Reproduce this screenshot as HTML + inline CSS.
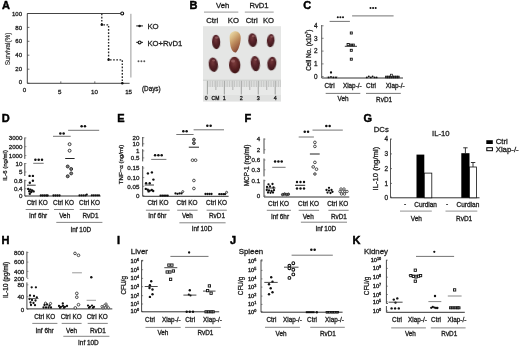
<!DOCTYPE html>
<html><head><meta charset="utf-8"><style>
html,body{margin:0;padding:0;background:#fff;width:520px;height:346px;overflow:hidden}
svg{display:block;will-change:transform}
text{font-family:"Liberation Sans", sans-serif;stroke:#1e1e1e;stroke-width:0.3px}
</style></head><body>
<svg width="520" height="346" viewBox="0 0 520 346" font-family='"Liberation Sans", sans-serif'>
<rect width="520" height="346" fill="#fff"/>
<text x="6.00" y="8.84" font-size="11.0" font-weight="bold" text-anchor="middle" fill="#000" style="stroke:#000;stroke-width:0.45px">A</text>
<line x1="27.30" y1="13.50" x2="27.30" y2="83.30" stroke="#444" stroke-width="1.0"/>
<line x1="27.30" y1="83.30" x2="129.60" y2="83.30" stroke="#444" stroke-width="1.0"/>
<line x1="27.30" y1="13.50" x2="29.40" y2="13.50" stroke="#444" stroke-width="0.8"/>
<text x="22.00" y="15.66" font-size="6.0" text-anchor="end" fill="#1e1e1e">100</text>
<line x1="27.30" y1="27.40" x2="29.40" y2="27.40" stroke="#444" stroke-width="0.8"/>
<text x="22.00" y="29.56" font-size="6.0" text-anchor="end" fill="#1e1e1e">80</text>
<line x1="27.30" y1="41.30" x2="29.40" y2="41.30" stroke="#444" stroke-width="0.8"/>
<text x="22.00" y="43.46" font-size="6.0" text-anchor="end" fill="#1e1e1e">60</text>
<line x1="27.30" y1="55.20" x2="29.40" y2="55.20" stroke="#444" stroke-width="0.8"/>
<text x="22.00" y="57.36" font-size="6.0" text-anchor="end" fill="#1e1e1e">40</text>
<line x1="27.30" y1="69.20" x2="29.40" y2="69.20" stroke="#444" stroke-width="0.8"/>
<text x="22.00" y="71.36" font-size="6.0" text-anchor="end" fill="#1e1e1e">20</text>
<line x1="27.30" y1="83.30" x2="29.40" y2="83.30" stroke="#444" stroke-width="0.8"/>
<text x="22.00" y="83.76" font-size="6.0" text-anchor="end" fill="#1e1e1e">0</text>
<line x1="60.80" y1="81.40" x2="60.80" y2="83.30" stroke="#444" stroke-width="0.8"/>
<line x1="94.80" y1="81.40" x2="94.80" y2="83.30" stroke="#444" stroke-width="0.8"/>
<text x="24.40" y="91.63" font-size="6.2" text-anchor="middle" fill="#1e1e1e">0</text>
<text x="59.80" y="94.13" font-size="6.2" text-anchor="middle" fill="#1e1e1e">5</text>
<text x="94.40" y="94.43" font-size="6.2" text-anchor="middle" fill="#1e1e1e">10</text>
<text x="128.60" y="94.43" font-size="6.2" text-anchor="middle" fill="#1e1e1e">15</text>
<text x="142.00" y="91.27" font-size="6.3" text-anchor="start" fill="#1e1e1e">(Days)</text>
<text transform="translate(7.70,49.00) rotate(-90)" x="0" y="2.30" font-size="6.4" text-anchor="middle" fill="#1e1e1e" style="stroke-width:0.15px">Survival(%)</text>
<line x1="27.30" y1="13.50" x2="122.00" y2="13.50" stroke="#444" stroke-width="1.0"/>
<circle cx="122.20" cy="13.40" r="1.46" fill="#fff" stroke="#111" stroke-width="1.12"/>
<path d="M101.8,13.5 V24.8 H108.6 V59.8 H122.3 V83.3" fill="none" stroke="#2a2a2a" stroke-width="1.35" stroke-dasharray="1.7,1.5"/>
<circle cx="101.80" cy="24.80" r="1.26" fill="#111"/>
<circle cx="108.60" cy="59.80" r="1.26" fill="#111"/>
<circle cx="122.30" cy="83.30" r="1.26" fill="#111"/>
<line x1="130.90" y1="13.80" x2="130.90" y2="77.50" stroke="#999" stroke-width="1.0"/>
<line x1="136.20" y1="25.90" x2="143.00" y2="25.90" stroke="#444" stroke-width="1.2"/>
<circle cx="139.60" cy="25.90" r="1.26" fill="#111"/>
<text x="147.40" y="29.31" font-size="7.8" text-anchor="start" fill="#1e1e1e">KO</text>
<line x1="136.20" y1="42.40" x2="143.00" y2="42.40" stroke="#444" stroke-width="1.2"/>
<circle cx="139.60" cy="42.40" r="1.46" fill="#fff" stroke="#111" stroke-width="1.12"/>
<text x="147.40" y="45.97" font-size="7.7" text-anchor="start" fill="#1e1e1e">KO+RvD1</text>
<circle cx="138.50" cy="61.30" r="0.96" fill="#555"/>
<circle cx="141.40" cy="61.30" r="0.96" fill="#555"/>
<circle cx="144.30" cy="61.30" r="0.96" fill="#555"/>
<text x="193.55" y="8.75" font-size="11.0" font-weight="bold" text-anchor="middle" fill="#000" style="stroke:#000;stroke-width:0.45px">B</text>
<text x="222.70" y="8.27" font-size="7.7" text-anchor="middle" fill="#1e1e1e">Veh</text>
<text x="259.00" y="8.27" font-size="7.7" text-anchor="middle" fill="#1e1e1e">RvD1</text>
<line x1="204.00" y1="12.10" x2="238.30" y2="12.10" stroke="#8c8c8c" stroke-width="0.9"/>
<line x1="244.80" y1="12.10" x2="273.70" y2="12.10" stroke="#8c8c8c" stroke-width="0.9"/>
<text x="212.30" y="23.17" font-size="7.7" text-anchor="middle" fill="#1e1e1e">Ctrl</text>
<text x="233.40" y="23.17" font-size="7.7" text-anchor="middle" fill="#1e1e1e">KO</text>
<text x="251.70" y="23.17" font-size="7.7" text-anchor="middle" fill="#1e1e1e">Ctrl</text>
<text x="268.50" y="23.17" font-size="7.7" text-anchor="middle" fill="#1e1e1e">KO</text>
<rect x="203.00" y="26.20" width="78.00" height="75.10" fill="#e5e6e5"/>
<defs><radialGradient id="kd" cx="0.45" cy="0.35" r="0.7"><stop offset="0" stop-color="#74383a"/><stop offset="0.4" stop-color="#58242a"/><stop offset="0.8" stop-color="#441a1e"/><stop offset="1" stop-color="#361416"/></radialGradient><linearGradient id="ky" x1="0.25" y1="0.0" x2="0.75" y2="1.0"><stop offset="0" stop-color="#e8d8a8"/><stop offset="0.25" stop-color="#d6b47e"/><stop offset="0.5" stop-color="#bc8a5c"/><stop offset="0.8" stop-color="#9a5c40"/><stop offset="1" stop-color="#6e3828"/></linearGradient><radialGradient id="ky2" cx="0.45" cy="0.35" r="0.7"><stop offset="0" stop-color="#7e3e3e"/><stop offset="0.5" stop-color="#5a2224"/><stop offset="1" stop-color="#3a1214"/></radialGradient><filter id="kb" x="-30%" y="-30%" width="160%" height="160%"><feGaussianBlur stdDeviation="0.5"/></filter></defs>
<g transform="rotate(-3 216.15 41.95)" filter="url(#kb)"><ellipse cx="216.15" cy="41.95" rx="4.1" ry="7.2" fill="url(#kd)"/></g>
<g filter="url(#kb)"><path d="M229.6,37.5 C229.4,32.5 233.5,31.2 235.6,31.3 C238.6,31.4 241.0,34.0 240.7,38.5 C240.4,44.0 238.5,50.0 236.0,52.4 C233.5,53.0 231.2,50.0 230.4,45.5 C229.9,42.5 229.7,40.0 229.6,37.5 Z" fill="url(#ky)"/></g>
<g transform="rotate(-5 252.65 40.2)" filter="url(#kb)"><ellipse cx="252.65" cy="40.2" rx="4.4" ry="6.9" fill="url(#kd)"/></g>
<g transform="rotate(6 270.7 40.55)" filter="url(#kb)"><ellipse cx="270.7" cy="40.55" rx="3.8" ry="6.6" fill="url(#kd)"/></g>
<g transform="rotate(-8 213.35 64.7)" filter="url(#kb)"><ellipse cx="213.35" cy="64.7" rx="4.6" ry="7.2" fill="url(#kd)"/></g>
<g transform="rotate(-3 234.7 65.1)" filter="url(#kb)"><ellipse cx="234.7" cy="65.1" rx="5.7" ry="8.3" fill="url(#ky2)"/></g>
<g transform="rotate(-7 255.35 63.6)" filter="url(#kb)"><ellipse cx="255.35" cy="63.6" rx="4.6" ry="7.6" fill="url(#kd)"/></g>
<g transform="rotate(8 271.85 63.6)" filter="url(#kb)"><ellipse cx="271.85" cy="63.6" rx="4.5" ry="6.8" fill="url(#kd)"/></g>
<ellipse cx="216.6" cy="37.6" rx="1.6" ry="1.2" fill="#b07878" opacity="0.55" filter="url(#kb)"/>
<ellipse cx="253.2" cy="36.2" rx="1.5" ry="1.1" fill="#b07878" opacity="0.55" filter="url(#kb)"/>
<ellipse cx="271.6" cy="36.8" rx="1.3" ry="1.0" fill="#b07878" opacity="0.55" filter="url(#kb)"/>
<ellipse cx="233.0" cy="61.0" rx="2.0" ry="1.6" fill="#b07878" opacity="0.55" filter="url(#kb)"/>
<ellipse cx="255.6" cy="59.6" rx="1.5" ry="1.1" fill="#b07878" opacity="0.55" filter="url(#kb)"/>
<ellipse cx="272.2" cy="60.0" rx="1.3" ry="1.0" fill="#b07878" opacity="0.55" filter="url(#kb)"/>
<ellipse cx="213.6" cy="60.5" rx="1.5" ry="1.1" fill="#b07878" opacity="0.55" filter="url(#kb)"/>
<rect x="203.00" y="79.80" width="78.00" height="21.50" fill="#e8e9e8"/>
<rect x="203.00" y="95.00" width="78.00" height="6.30" fill="#e0e1e0"/>
<line x1="203.00" y1="80.20" x2="281.00" y2="80.20" stroke="#c4c6c4" stroke-width="0.8"/>
<line x1="207.40" y1="80.80" x2="207.40" y2="94.50" stroke="#808280" stroke-width="0.7"/>
<line x1="209.09" y1="80.80" x2="209.09" y2="87.00" stroke="#aeb0ae" stroke-width="0.6"/>
<line x1="210.79" y1="80.80" x2="210.79" y2="87.00" stroke="#aeb0ae" stroke-width="0.6"/>
<line x1="212.49" y1="80.80" x2="212.49" y2="87.00" stroke="#aeb0ae" stroke-width="0.6"/>
<line x1="214.18" y1="80.80" x2="214.18" y2="87.00" stroke="#aeb0ae" stroke-width="0.6"/>
<line x1="215.88" y1="80.80" x2="215.88" y2="90.00" stroke="#909290" stroke-width="0.65"/>
<line x1="217.57" y1="80.80" x2="217.57" y2="87.00" stroke="#aeb0ae" stroke-width="0.6"/>
<line x1="219.27" y1="80.80" x2="219.27" y2="87.00" stroke="#aeb0ae" stroke-width="0.6"/>
<line x1="220.96" y1="80.80" x2="220.96" y2="87.00" stroke="#aeb0ae" stroke-width="0.6"/>
<line x1="222.66" y1="80.80" x2="222.66" y2="87.00" stroke="#aeb0ae" stroke-width="0.6"/>
<line x1="224.35" y1="80.80" x2="224.35" y2="94.50" stroke="#808280" stroke-width="0.7"/>
<line x1="226.05" y1="80.80" x2="226.05" y2="87.00" stroke="#aeb0ae" stroke-width="0.6"/>
<line x1="227.74" y1="80.80" x2="227.74" y2="87.00" stroke="#aeb0ae" stroke-width="0.6"/>
<line x1="229.44" y1="80.80" x2="229.44" y2="87.00" stroke="#aeb0ae" stroke-width="0.6"/>
<line x1="231.13" y1="80.80" x2="231.13" y2="87.00" stroke="#aeb0ae" stroke-width="0.6"/>
<line x1="232.83" y1="80.80" x2="232.83" y2="90.00" stroke="#909290" stroke-width="0.65"/>
<line x1="234.52" y1="80.80" x2="234.52" y2="87.00" stroke="#aeb0ae" stroke-width="0.6"/>
<line x1="236.22" y1="80.80" x2="236.22" y2="87.00" stroke="#aeb0ae" stroke-width="0.6"/>
<line x1="237.91" y1="80.80" x2="237.91" y2="87.00" stroke="#aeb0ae" stroke-width="0.6"/>
<line x1="239.61" y1="80.80" x2="239.61" y2="87.00" stroke="#aeb0ae" stroke-width="0.6"/>
<line x1="241.30" y1="80.80" x2="241.30" y2="94.50" stroke="#808280" stroke-width="0.7"/>
<line x1="243.00" y1="80.80" x2="243.00" y2="87.00" stroke="#aeb0ae" stroke-width="0.6"/>
<line x1="244.69" y1="80.80" x2="244.69" y2="87.00" stroke="#aeb0ae" stroke-width="0.6"/>
<line x1="246.38" y1="80.80" x2="246.38" y2="87.00" stroke="#aeb0ae" stroke-width="0.6"/>
<line x1="248.08" y1="80.80" x2="248.08" y2="87.00" stroke="#aeb0ae" stroke-width="0.6"/>
<line x1="249.78" y1="80.80" x2="249.78" y2="90.00" stroke="#909290" stroke-width="0.65"/>
<line x1="251.47" y1="80.80" x2="251.47" y2="87.00" stroke="#aeb0ae" stroke-width="0.6"/>
<line x1="253.17" y1="80.80" x2="253.17" y2="87.00" stroke="#aeb0ae" stroke-width="0.6"/>
<line x1="254.86" y1="80.80" x2="254.86" y2="87.00" stroke="#aeb0ae" stroke-width="0.6"/>
<line x1="256.56" y1="80.80" x2="256.56" y2="87.00" stroke="#aeb0ae" stroke-width="0.6"/>
<line x1="258.25" y1="80.80" x2="258.25" y2="94.50" stroke="#808280" stroke-width="0.7"/>
<line x1="259.94" y1="80.80" x2="259.94" y2="87.00" stroke="#aeb0ae" stroke-width="0.6"/>
<line x1="261.64" y1="80.80" x2="261.64" y2="87.00" stroke="#aeb0ae" stroke-width="0.6"/>
<line x1="263.34" y1="80.80" x2="263.34" y2="87.00" stroke="#aeb0ae" stroke-width="0.6"/>
<line x1="265.03" y1="80.80" x2="265.03" y2="87.00" stroke="#aeb0ae" stroke-width="0.6"/>
<line x1="266.73" y1="80.80" x2="266.73" y2="90.00" stroke="#909290" stroke-width="0.65"/>
<line x1="268.42" y1="80.80" x2="268.42" y2="87.00" stroke="#aeb0ae" stroke-width="0.6"/>
<line x1="270.12" y1="80.80" x2="270.12" y2="87.00" stroke="#aeb0ae" stroke-width="0.6"/>
<line x1="271.81" y1="80.80" x2="271.81" y2="87.00" stroke="#aeb0ae" stroke-width="0.6"/>
<line x1="273.50" y1="80.80" x2="273.50" y2="87.00" stroke="#aeb0ae" stroke-width="0.6"/>
<line x1="275.20" y1="80.80" x2="275.20" y2="94.50" stroke="#808280" stroke-width="0.7"/>
<line x1="276.89" y1="80.80" x2="276.89" y2="87.00" stroke="#aeb0ae" stroke-width="0.6"/>
<line x1="278.59" y1="80.80" x2="278.59" y2="87.00" stroke="#aeb0ae" stroke-width="0.6"/>
<line x1="280.29" y1="80.80" x2="280.29" y2="87.00" stroke="#aeb0ae" stroke-width="0.6"/>
<text x="224.35" y="99.94" font-size="5.4" text-anchor="middle" fill="#222">1</text>
<text x="241.30" y="99.94" font-size="5.4" text-anchor="middle" fill="#222">2</text>
<text x="258.25" y="99.94" font-size="5.4" text-anchor="middle" fill="#222">3</text>
<text x="275.20" y="99.94" font-size="5.4" text-anchor="middle" fill="#222">4</text>
<text x="206.20" y="99.67" font-size="5.2" text-anchor="middle" fill="#222">0</text>
<text x="215.50" y="99.60" font-size="5.0" text-anchor="middle" fill="#222">CM</text>
<text x="307.35" y="9.04" font-size="11.0" font-weight="bold" text-anchor="middle" fill="#000" style="stroke:#000;stroke-width:0.45px">C</text>
<line x1="321.70" y1="25.00" x2="321.70" y2="78.00" stroke="#555" stroke-width="1.0"/>
<line x1="321.70" y1="78.00" x2="403.00" y2="78.00" stroke="#333" stroke-width="1.0"/>
<line x1="321.70" y1="25.80" x2="323.60" y2="25.80" stroke="#555" stroke-width="0.7"/>
<text x="315.80" y="28.10" font-size="6.4" text-anchor="middle" fill="#1e1e1e">4</text>
<line x1="321.70" y1="38.30" x2="323.60" y2="38.30" stroke="#555" stroke-width="0.7"/>
<text x="315.80" y="40.60" font-size="6.4" text-anchor="middle" fill="#1e1e1e">3</text>
<line x1="321.70" y1="51.10" x2="323.60" y2="51.10" stroke="#555" stroke-width="0.7"/>
<text x="315.80" y="53.40" font-size="6.4" text-anchor="middle" fill="#1e1e1e">2</text>
<line x1="321.70" y1="63.90" x2="323.60" y2="63.90" stroke="#555" stroke-width="0.7"/>
<text x="315.80" y="66.20" font-size="6.4" text-anchor="middle" fill="#1e1e1e">1</text>
<line x1="321.70" y1="76.50" x2="323.60" y2="76.50" stroke="#555" stroke-width="0.7"/>
<text x="315.80" y="78.80" font-size="6.4" text-anchor="middle" fill="#1e1e1e">0</text>
<text transform="translate(308.4,50.2) rotate(-90)" x="0" y="2.30" font-size="6.4" text-anchor="middle" fill="#1e1e1e">Cell No. (x10<tspan font-size="4" dy="-2.4">7</tspan><tspan dy="2.4">)</tspan></text>
<circle cx="337.80" cy="17.20" r="1.02" fill="#111"/>
<circle cx="340.40" cy="17.20" r="1.02" fill="#111"/>
<circle cx="343.00" cy="17.20" r="1.02" fill="#111"/>
<line x1="329.60" y1="21.40" x2="349.90" y2="21.40" stroke="#747474" stroke-width="1.0"/>
<circle cx="370.50" cy="8.10" r="1.02" fill="#111"/>
<circle cx="373.10" cy="8.10" r="1.02" fill="#111"/>
<circle cx="375.70" cy="8.10" r="1.02" fill="#111"/>
<line x1="352.10" y1="15.90" x2="393.60" y2="15.90" stroke="#747474" stroke-width="1.0"/>
<text x="329.60" y="88.20" font-size="6.4" text-anchor="middle" fill="#1e1e1e">Ctrl</text>
<text x="352.30" y="88.20" font-size="6.4" text-anchor="middle" fill="#1e1e1e">Xiap-/-</text>
<text x="371.00" y="88.20" font-size="6.4" text-anchor="middle" fill="#1e1e1e">Ctrl</text>
<text x="395.20" y="88.20" font-size="6.4" text-anchor="middle" fill="#1e1e1e">Xiap-/-</text>
<line x1="325.70" y1="93.40" x2="360.30" y2="93.40" stroke="#666" stroke-width="0.9"/>
<line x1="366.00" y1="93.40" x2="400.80" y2="93.40" stroke="#666" stroke-width="0.9"/>
<text x="343.00" y="100.60" font-size="6.4" text-anchor="middle" fill="#1e1e1e">Veh</text>
<text x="384.10" y="102.30" font-size="6.4" text-anchor="middle" fill="#1e1e1e">RvD1</text>
<circle cx="331.00" cy="72.50" r="1.14" fill="#111"/>
<line x1="326.50" y1="77.20" x2="338.00" y2="77.20" stroke="#888" stroke-width="0.9"/>
<circle cx="328.60" cy="77.40" r="0.96" fill="#111"/>
<circle cx="331.00" cy="76.90" r="0.96" fill="#111"/>
<circle cx="333.40" cy="77.40" r="0.96" fill="#111"/>
<circle cx="336.00" cy="77.40" r="0.96" fill="#111"/>
<rect x="350.30" y="32.00" width="2.0" height="2.0" fill="#fff" stroke="#111" stroke-width="0.9"/>
<rect x="350.30" y="49.30" width="2.0" height="2.0" fill="#fff" stroke="#111" stroke-width="0.9"/>
<rect x="350.30" y="58.20" width="2.0" height="2.0" fill="#fff" stroke="#111" stroke-width="0.9"/>
<rect x="347.10" y="43.50" width="2.2" height="2.2" fill="#fff" stroke="#111" stroke-width="0.9"/>
<rect x="350.00" y="44.10" width="1.8" height="1.8" fill="#fff" stroke="#111" stroke-width="0.9"/>
<rect x="352.50" y="44.10" width="1.8" height="1.8" fill="#fff" stroke="#111" stroke-width="0.9"/>
<line x1="344.80" y1="46.30" x2="357.00" y2="46.30" stroke="#222" stroke-width="0.9"/>
<circle cx="366.80" cy="77.40" r="0.96" fill="#111"/>
<circle cx="368.80" cy="76.40" r="0.96" fill="#111"/>
<circle cx="370.80" cy="77.40" r="0.96" fill="#111"/>
<circle cx="372.60" cy="76.40" r="0.96" fill="#111"/>
<circle cx="374.60" cy="77.40" r="0.96" fill="#111"/>
<circle cx="376.60" cy="77.40" r="0.96" fill="#111"/>
<rect x="385.60" y="76.10" width="1.8" height="1.8" fill="#555" stroke="#111" stroke-width="0.7"/>
<rect x="387.60" y="76.10" width="1.8" height="1.8" fill="#555" stroke="#111" stroke-width="0.7"/>
<rect x="389.60" y="76.10" width="1.8" height="1.8" fill="#555" stroke="#111" stroke-width="0.7"/>
<rect x="391.60" y="76.10" width="1.8" height="1.8" fill="#555" stroke="#111" stroke-width="0.7"/>
<rect x="393.60" y="76.10" width="1.8" height="1.8" fill="#555" stroke="#111" stroke-width="0.7"/>
<rect x="395.60" y="76.10" width="1.8" height="1.8" fill="#555" stroke="#111" stroke-width="0.7"/>
<rect x="397.40" y="76.10" width="1.8" height="1.8" fill="#555" stroke="#111" stroke-width="0.7"/>
<rect x="390.50" y="74.20" width="2.0" height="2.0" fill="#fff" stroke="#111" stroke-width="0.7"/>
<text x="5.70" y="121.55" font-size="11.0" font-weight="bold" text-anchor="middle" fill="#000" style="stroke:#000;stroke-width:0.45px">D</text>
<line x1="24.80" y1="137.50" x2="24.80" y2="158.90" stroke="#333" stroke-width="0.9"/>
<line x1="24.80" y1="163.00" x2="24.80" y2="176.00" stroke="#333" stroke-width="0.9"/>
<line x1="24.80" y1="179.70" x2="24.80" y2="196.00" stroke="#333" stroke-width="0.9"/>
<text x="22.50" y="140.13" font-size="6.2" text-anchor="end" fill="#1e1e1e">3000</text>
<line x1="24.80" y1="137.90" x2="26.40" y2="137.90" stroke="#555" stroke-width="0.6"/>
<text x="22.50" y="148.83" font-size="6.2" text-anchor="end" fill="#1e1e1e">2000</text>
<line x1="24.80" y1="146.60" x2="26.40" y2="146.60" stroke="#555" stroke-width="0.6"/>
<text x="22.50" y="157.73" font-size="6.2" text-anchor="end" fill="#1e1e1e">1000</text>
<line x1="24.80" y1="155.50" x2="26.40" y2="155.50" stroke="#555" stroke-width="0.6"/>
<text x="22.50" y="165.73" font-size="6.2" text-anchor="end" fill="#1e1e1e">10</text>
<line x1="24.80" y1="163.50" x2="26.40" y2="163.50" stroke="#555" stroke-width="0.6"/>
<text x="22.50" y="174.23" font-size="6.2" text-anchor="end" fill="#1e1e1e">5</text>
<line x1="24.80" y1="172.00" x2="26.40" y2="172.00" stroke="#555" stroke-width="0.6"/>
<text x="22.50" y="182.83" font-size="6.2" text-anchor="end" fill="#1e1e1e">0.8</text>
<line x1="24.80" y1="180.60" x2="26.40" y2="180.60" stroke="#555" stroke-width="0.6"/>
<text x="22.50" y="190.93" font-size="6.2" text-anchor="end" fill="#1e1e1e">0.4</text>
<line x1="24.80" y1="188.70" x2="26.40" y2="188.70" stroke="#555" stroke-width="0.6"/>
<text x="22.50" y="198.43" font-size="6.2" text-anchor="end" fill="#1e1e1e">0</text>
<line x1="24.80" y1="196.20" x2="26.40" y2="196.20" stroke="#555" stroke-width="0.6"/>
<line x1="24.80" y1="196.00" x2="100.60" y2="196.00" stroke="#333" stroke-width="1.0"/>
<text transform="translate(4.60,165.40) rotate(-90)" x="0" y="2.16" font-size="6.0" text-anchor="middle" fill="#1e1e1e">IL-6 (ng/ml)</text>
<circle cx="35.40" cy="159.70" r="1.26" fill="#111"/>
<circle cx="38.70" cy="159.70" r="1.26" fill="#111"/>
<circle cx="42.00" cy="159.70" r="1.26" fill="#111"/>
<line x1="33.20" y1="163.30" x2="43.70" y2="163.30" stroke="#747474" stroke-width="1.0"/>
<circle cx="60.35" cy="133.40" r="1.26" fill="#111"/>
<circle cx="63.65" cy="133.40" r="1.26" fill="#111"/>
<line x1="53.00" y1="136.30" x2="70.70" y2="136.30" stroke="#747474" stroke-width="1.0"/>
<circle cx="81.65" cy="126.20" r="1.26" fill="#111"/>
<circle cx="84.95" cy="126.20" r="1.26" fill="#111"/>
<line x1="68.10" y1="130.30" x2="99.20" y2="130.30" stroke="#747474" stroke-width="1.0"/>
<text x="37.20" y="205.00" font-size="6.4" text-anchor="middle" fill="#1e1e1e">Ctrl KO</text>
<text x="63.50" y="205.00" font-size="6.4" text-anchor="middle" fill="#1e1e1e">Ctrl KO</text>
<text x="89.60" y="205.00" font-size="6.4" text-anchor="middle" fill="#1e1e1e">Ctrl KO</text>
<line x1="25.70" y1="209.50" x2="49.10" y2="209.50" stroke="#777" stroke-width="0.9"/>
<line x1="54.00" y1="209.50" x2="73.90" y2="209.50" stroke="#777" stroke-width="0.9"/>
<line x1="79.70" y1="209.50" x2="100.00" y2="209.50" stroke="#777" stroke-width="0.9"/>
<text x="38.10" y="218.00" font-size="6.4" text-anchor="middle" fill="#1e1e1e">Inf 6hr</text>
<text x="64.70" y="218.00" font-size="6.4" text-anchor="middle" fill="#1e1e1e">Veh</text>
<text x="90.50" y="218.00" font-size="6.4" text-anchor="middle" fill="#1e1e1e">RvD1</text>
<line x1="56.30" y1="222.40" x2="102.40" y2="222.40" stroke="#777" stroke-width="0.9"/>
<text x="80.80" y="231.50" font-size="6.4" text-anchor="middle" fill="#1e1e1e">Inf 10D</text>
<circle cx="29.60" cy="175.90" r="1.20" fill="#111"/>
<circle cx="32.90" cy="175.90" r="1.20" fill="#111"/>
<circle cx="32.90" cy="180.70" r="1.20" fill="#111"/>
<circle cx="29.80" cy="182.70" r="1.20" fill="#111"/>
<circle cx="28.20" cy="188.90" r="1.20" fill="#111"/>
<circle cx="30.40" cy="189.60" r="1.20" fill="#111"/>
<circle cx="32.20" cy="190.40" r="1.20" fill="#111"/>
<circle cx="33.60" cy="191.40" r="1.20" fill="#111"/>
<circle cx="29.20" cy="191.20" r="1.20" fill="#111"/>
<circle cx="31.20" cy="192.00" r="1.20" fill="#111"/>
<circle cx="29.80" cy="193.80" r="1.20" fill="#111"/>
<line x1="27.00" y1="185.20" x2="35.70" y2="185.20" stroke="#222" stroke-width="0.9"/>
<circle cx="40.80" cy="195.50" r="1.14" fill="#111"/>
<circle cx="42.60" cy="195.50" r="1.14" fill="#111"/>
<circle cx="44.40" cy="195.50" r="1.14" fill="#111"/>
<circle cx="46.20" cy="195.50" r="1.14" fill="#111"/>
<circle cx="47.60" cy="195.50" r="1.14" fill="#111"/>
<circle cx="53.50" cy="195.50" r="1.14" fill="#111"/>
<circle cx="55.50" cy="195.50" r="1.14" fill="#111"/>
<circle cx="57.50" cy="195.50" r="1.14" fill="#111"/>
<circle cx="59.50" cy="195.50" r="1.14" fill="#111"/>
<circle cx="69.60" cy="144.20" r="1.46" fill="#fff" stroke="#333" stroke-width="1.00"/>
<circle cx="69.60" cy="150.70" r="1.46" fill="#fff" stroke="#333" stroke-width="1.00"/>
<line x1="65.20" y1="158.50" x2="74.60" y2="158.50" stroke="#222" stroke-width="1.0"/>
<circle cx="67.70" cy="166.50" r="1.46" fill="#808080" stroke="#333" stroke-width="1.00"/>
<circle cx="71.20" cy="169.00" r="1.46" fill="#808080" stroke="#333" stroke-width="1.00"/>
<circle cx="71.20" cy="173.40" r="1.46" fill="#808080" stroke="#333" stroke-width="1.00"/>
<circle cx="67.70" cy="176.30" r="1.46" fill="#808080" stroke="#333" stroke-width="1.00"/>
<circle cx="79.50" cy="195.40" r="1.08" fill="#111"/>
<circle cx="81.50" cy="195.40" r="1.08" fill="#111"/>
<circle cx="83.50" cy="195.40" r="1.08" fill="#111"/>
<circle cx="85.50" cy="195.40" r="1.08" fill="#111"/>
<circle cx="86.80" cy="194.60" r="1.08" fill="#111"/>
<circle cx="91.80" cy="195.30" r="1.08" fill="#111"/>
<circle cx="93.60" cy="195.30" r="1.08" fill="#111"/>
<circle cx="95.40" cy="195.30" r="1.08" fill="#111"/>
<circle cx="97.20" cy="195.30" r="1.08" fill="#111"/>
<circle cx="99.00" cy="195.30" r="1.08" fill="#111"/>
<text x="120.85" y="121.59" font-size="11.0" font-weight="bold" text-anchor="middle" fill="#000" style="stroke:#000;stroke-width:0.45px">E</text>
<line x1="142.70" y1="137.00" x2="142.70" y2="146.60" stroke="#333" stroke-width="0.9"/>
<line x1="142.70" y1="149.20" x2="142.70" y2="161.40" stroke="#333" stroke-width="0.9"/>
<line x1="142.70" y1="166.00" x2="142.70" y2="196.30" stroke="#333" stroke-width="0.9"/>
<text x="139.40" y="139.93" font-size="6.2" text-anchor="end" fill="#1e1e1e">20</text>
<line x1="142.70" y1="137.70" x2="144.30" y2="137.70" stroke="#444" stroke-width="0.6"/>
<text x="139.40" y="146.03" font-size="6.2" text-anchor="end" fill="#1e1e1e">10</text>
<line x1="142.70" y1="143.80" x2="144.30" y2="143.80" stroke="#444" stroke-width="0.6"/>
<text x="139.40" y="153.13" font-size="6.2" text-anchor="end" fill="#1e1e1e">1</text>
<line x1="142.70" y1="150.90" x2="144.30" y2="150.90" stroke="#444" stroke-width="0.6"/>
<text x="139.40" y="160.13" font-size="6.2" text-anchor="end" fill="#1e1e1e">0.5</text>
<line x1="142.70" y1="157.90" x2="144.30" y2="157.90" stroke="#444" stroke-width="0.6"/>
<text x="139.40" y="170.23" font-size="6.2" text-anchor="end" fill="#1e1e1e">0.15</text>
<line x1="142.70" y1="168.00" x2="144.30" y2="168.00" stroke="#444" stroke-width="0.6"/>
<text x="139.40" y="179.83" font-size="6.2" text-anchor="end" fill="#1e1e1e">0.10</text>
<line x1="142.70" y1="177.60" x2="144.30" y2="177.60" stroke="#444" stroke-width="0.6"/>
<text x="139.40" y="188.53" font-size="6.2" text-anchor="end" fill="#1e1e1e">0.05</text>
<line x1="142.70" y1="186.30" x2="144.30" y2="186.30" stroke="#444" stroke-width="0.6"/>
<text x="139.40" y="197.83" font-size="6.2" text-anchor="end" fill="#1e1e1e">0</text>
<line x1="142.70" y1="195.60" x2="144.30" y2="195.60" stroke="#444" stroke-width="0.6"/>
<line x1="142.70" y1="196.30" x2="228.60" y2="196.30" stroke="#333" stroke-width="1.0"/>
<text transform="translate(120.60,164.40) rotate(-90)" x="0" y="2.20" font-size="6.1" text-anchor="middle" fill="#1e1e1e">TNF−α (ng/ml)</text>
<circle cx="155.10" cy="155.30" r="1.26" fill="#111"/>
<circle cx="158.40" cy="155.30" r="1.26" fill="#111"/>
<circle cx="161.70" cy="155.30" r="1.26" fill="#111"/>
<line x1="151.20" y1="159.40" x2="166.40" y2="159.40" stroke="#747474" stroke-width="1.0"/>
<circle cx="183.35" cy="131.30" r="1.26" fill="#111"/>
<circle cx="186.65" cy="131.30" r="1.26" fill="#111"/>
<line x1="176.30" y1="134.50" x2="193.60" y2="134.50" stroke="#747474" stroke-width="1.0"/>
<circle cx="207.35" cy="125.80" r="1.26" fill="#111"/>
<circle cx="210.65" cy="125.80" r="1.26" fill="#111"/>
<line x1="193.60" y1="129.80" x2="224.00" y2="129.80" stroke="#747474" stroke-width="1.0"/>
<text x="157.90" y="205.10" font-size="6.4" text-anchor="middle" fill="#1e1e1e">Ctrl KO</text>
<text x="187.00" y="205.10" font-size="6.4" text-anchor="middle" fill="#1e1e1e">Ctrl KO</text>
<text x="216.60" y="205.10" font-size="6.4" text-anchor="middle" fill="#1e1e1e">Ctrl KO</text>
<line x1="145.90" y1="210.20" x2="169.70" y2="210.20" stroke="#777" stroke-width="0.9"/>
<line x1="177.20" y1="210.20" x2="197.60" y2="210.20" stroke="#777" stroke-width="0.9"/>
<line x1="206.60" y1="210.20" x2="226.80" y2="210.20" stroke="#777" stroke-width="0.9"/>
<text x="157.40" y="217.80" font-size="6.4" text-anchor="middle" fill="#1e1e1e">Inf 6hr</text>
<text x="187.40" y="217.80" font-size="6.4" text-anchor="middle" fill="#1e1e1e">Veh</text>
<text x="217.00" y="217.80" font-size="6.4" text-anchor="middle" fill="#1e1e1e">RvD1</text>
<line x1="179.40" y1="222.80" x2="225.60" y2="222.80" stroke="#777" stroke-width="0.9"/>
<text x="202.00" y="230.80" font-size="6.4" text-anchor="middle" fill="#1e1e1e">Inf 10D</text>
<circle cx="147.90" cy="173.40" r="1.20" fill="#111"/>
<circle cx="151.90" cy="172.40" r="1.20" fill="#111"/>
<circle cx="153.40" cy="179.60" r="1.20" fill="#111"/>
<circle cx="146.10" cy="183.20" r="1.20" fill="#111"/>
<circle cx="149.70" cy="183.20" r="1.20" fill="#111"/>
<circle cx="145.80" cy="188.90" r="1.20" fill="#111"/>
<circle cx="147.80" cy="189.80" r="1.20" fill="#111"/>
<circle cx="149.80" cy="190.60" r="1.20" fill="#111"/>
<circle cx="151.80" cy="190.00" r="1.20" fill="#111"/>
<circle cx="153.20" cy="191.00" r="1.20" fill="#111"/>
<circle cx="148.60" cy="191.40" r="1.20" fill="#111"/>
<line x1="144.70" y1="185.00" x2="154.00" y2="185.00" stroke="#222" stroke-width="0.9"/>
<circle cx="160.50" cy="195.60" r="1.14" fill="#111"/>
<circle cx="162.30" cy="195.60" r="1.14" fill="#111"/>
<circle cx="164.10" cy="195.60" r="1.14" fill="#111"/>
<circle cx="165.90" cy="195.60" r="1.14" fill="#111"/>
<circle cx="167.70" cy="195.60" r="1.14" fill="#111"/>
<circle cx="175.50" cy="193.40" r="1.14" fill="#111"/>
<circle cx="177.50" cy="193.80" r="1.14" fill="#111"/>
<circle cx="179.50" cy="193.40" r="1.14" fill="#111"/>
<circle cx="181.50" cy="193.40" r="1.14" fill="#111"/>
<circle cx="182.80" cy="191.60" r="1.01" fill="#fff" stroke="#333" stroke-width="0.88"/>
<circle cx="193.90" cy="139.60" r="1.40" fill="#9a9a9a" stroke="#333" stroke-width="1.00"/>
<circle cx="193.90" cy="143.20" r="1.40" fill="#9a9a9a" stroke="#333" stroke-width="1.00"/>
<line x1="188.80" y1="147.20" x2="199.00" y2="147.20" stroke="#222" stroke-width="1.0"/>
<circle cx="192.50" cy="160.20" r="1.34" fill="#fff" stroke="#333" stroke-width="0.88"/>
<circle cx="195.60" cy="160.20" r="1.34" fill="#fff" stroke="#333" stroke-width="0.88"/>
<circle cx="193.90" cy="180.50" r="1.34" fill="#fff" stroke="#333" stroke-width="0.88"/>
<circle cx="193.90" cy="188.50" r="1.34" fill="#fff" stroke="#333" stroke-width="0.88"/>
<circle cx="205.50" cy="194.00" r="1.14" fill="#111"/>
<circle cx="207.50" cy="194.00" r="1.14" fill="#111"/>
<circle cx="209.50" cy="194.00" r="1.14" fill="#111"/>
<circle cx="211.50" cy="194.00" r="1.14" fill="#111"/>
<circle cx="219.30" cy="194.20" r="1.14" fill="#111"/>
<circle cx="221.30" cy="194.20" r="1.14" fill="#111"/>
<circle cx="223.30" cy="194.20" r="1.14" fill="#111"/>
<circle cx="225.00" cy="194.20" r="1.14" fill="#111"/>
<circle cx="226.60" cy="192.30" r="1.01" fill="#fff" stroke="#333" stroke-width="0.88"/>
<text x="247.75" y="121.64" font-size="11.0" font-weight="bold" text-anchor="middle" fill="#000" style="stroke:#000;stroke-width:0.45px">F</text>
<line x1="264.00" y1="138.40" x2="264.00" y2="153.80" stroke="#333" stroke-width="0.9"/>
<line x1="264.00" y1="158.50" x2="264.00" y2="176.40" stroke="#333" stroke-width="0.9"/>
<line x1="264.00" y1="179.70" x2="264.00" y2="197.00" stroke="#333" stroke-width="0.9"/>
<text x="260.20" y="141.33" font-size="6.2" text-anchor="end" fill="#1e1e1e">4</text>
<line x1="264.00" y1="139.10" x2="265.50" y2="139.10" stroke="#555" stroke-width="0.6"/>
<text x="260.20" y="151.93" font-size="6.2" text-anchor="end" fill="#1e1e1e">2</text>
<line x1="264.00" y1="149.70" x2="265.50" y2="149.70" stroke="#555" stroke-width="0.6"/>
<text x="260.20" y="162.23" font-size="6.2" text-anchor="end" fill="#1e1e1e">0.6</text>
<line x1="264.00" y1="160.00" x2="265.50" y2="160.00" stroke="#555" stroke-width="0.6"/>
<text x="260.20" y="172.03" font-size="6.2" text-anchor="end" fill="#1e1e1e">0.3</text>
<line x1="264.00" y1="169.80" x2="265.50" y2="169.80" stroke="#555" stroke-width="0.6"/>
<text x="260.20" y="182.93" font-size="6.2" text-anchor="end" fill="#1e1e1e">0.1</text>
<line x1="264.00" y1="180.70" x2="265.50" y2="180.70" stroke="#555" stroke-width="0.6"/>
<text x="260.20" y="198.03" font-size="6.2" text-anchor="end" fill="#1e1e1e">0</text>
<line x1="264.00" y1="195.80" x2="265.50" y2="195.80" stroke="#555" stroke-width="0.6"/>
<line x1="264.00" y1="197.00" x2="349.30" y2="197.00" stroke="#333" stroke-width="1.0"/>
<text transform="translate(246.60,165.50) rotate(-90)" x="0" y="2.30" font-size="6.4" text-anchor="middle" fill="#1e1e1e">MCP-1 (ng/ml)</text>
<circle cx="275.10" cy="161.60" r="1.26" fill="#111"/>
<circle cx="278.40" cy="161.60" r="1.26" fill="#111"/>
<circle cx="281.70" cy="161.60" r="1.26" fill="#111"/>
<line x1="272.20" y1="167.30" x2="285.60" y2="167.30" stroke="#747474" stroke-width="1.0"/>
<circle cx="304.75" cy="131.80" r="1.26" fill="#111"/>
<circle cx="308.05" cy="131.80" r="1.26" fill="#111"/>
<line x1="298.70" y1="137.00" x2="313.90" y2="137.00" stroke="#747474" stroke-width="1.0"/>
<circle cx="326.35" cy="126.10" r="1.26" fill="#111"/>
<circle cx="329.65" cy="126.10" r="1.26" fill="#111"/>
<line x1="312.50" y1="130.10" x2="342.80" y2="130.10" stroke="#747474" stroke-width="1.0"/>
<text x="278.60" y="205.70" font-size="6.4" text-anchor="middle" fill="#1e1e1e">Ctrl KO</text>
<text x="308.50" y="205.70" font-size="6.4" text-anchor="middle" fill="#1e1e1e">Ctrl KO</text>
<text x="337.70" y="205.70" font-size="6.4" text-anchor="middle" fill="#1e1e1e">Ctrl KO</text>
<line x1="266.80" y1="210.30" x2="291.00" y2="210.30" stroke="#777" stroke-width="0.9"/>
<line x1="298.70" y1="210.30" x2="319.10" y2="210.30" stroke="#777" stroke-width="0.9"/>
<line x1="328.40" y1="210.30" x2="348.60" y2="210.30" stroke="#777" stroke-width="0.9"/>
<text x="280.00" y="219.30" font-size="6.4" text-anchor="middle" fill="#1e1e1e">Inf 6hr</text>
<text x="308.20" y="218.50" font-size="6.4" text-anchor="middle" fill="#1e1e1e">Veh</text>
<text x="338.90" y="219.30" font-size="6.4" text-anchor="middle" fill="#1e1e1e">RvD1</text>
<line x1="300.90" y1="222.20" x2="347.00" y2="222.20" stroke="#777" stroke-width="0.9"/>
<text x="325.80" y="231.10" font-size="6.4" text-anchor="middle" fill="#1e1e1e">Inf 10D</text>
<circle cx="268.50" cy="184.30" r="1.14" fill="#111"/>
<circle cx="272.50" cy="184.00" r="1.14" fill="#111"/>
<circle cx="267.00" cy="187.00" r="1.14" fill="#111"/>
<circle cx="270.00" cy="186.50" r="1.14" fill="#111"/>
<circle cx="273.50" cy="187.50" r="1.14" fill="#111"/>
<circle cx="266.80" cy="190.00" r="1.14" fill="#111"/>
<circle cx="269.00" cy="190.50" r="1.14" fill="#111"/>
<circle cx="271.50" cy="191.00" r="1.14" fill="#111"/>
<circle cx="274.00" cy="190.20" r="1.14" fill="#111"/>
<circle cx="268.00" cy="192.50" r="1.14" fill="#111"/>
<circle cx="270.50" cy="192.80" r="1.14" fill="#111"/>
<circle cx="273.00" cy="192.50" r="1.14" fill="#111"/>
<line x1="266.00" y1="188.00" x2="275.50" y2="188.00" stroke="#222" stroke-width="0.9"/>
<circle cx="282.60" cy="194.60" r="1.18" fill="#666" stroke="#222" stroke-width="0.88"/>
<circle cx="284.60" cy="194.00" r="1.18" fill="#666" stroke="#222" stroke-width="0.88"/>
<circle cx="286.60" cy="194.60" r="1.18" fill="#666" stroke="#222" stroke-width="0.88"/>
<circle cx="288.40" cy="194.20" r="1.18" fill="#666" stroke="#222" stroke-width="0.88"/>
<circle cx="297.00" cy="182.00" r="1.20" fill="#111"/>
<circle cx="297.00" cy="188.50" r="1.20" fill="#111"/>
<circle cx="300.50" cy="182.00" r="1.20" fill="#111"/>
<circle cx="300.50" cy="188.50" r="1.20" fill="#111"/>
<circle cx="304.00" cy="182.00" r="1.20" fill="#111"/>
<circle cx="304.00" cy="188.50" r="1.20" fill="#111"/>
<line x1="295.00" y1="185.30" x2="305.20" y2="185.30" stroke="#222" stroke-width="1.0"/>
<circle cx="314.90" cy="142.40" r="1.34" fill="#fff" stroke="#333" stroke-width="0.88"/>
<circle cx="314.90" cy="146.40" r="1.34" fill="#fff" stroke="#333" stroke-width="0.88"/>
<line x1="309.90" y1="154.00" x2="319.70" y2="154.00" stroke="#222" stroke-width="1.0"/>
<circle cx="314.90" cy="162.40" r="1.34" fill="#fff" stroke="#333" stroke-width="0.88"/>
<circle cx="313.20" cy="166.90" r="1.34" fill="#fff" stroke="#333" stroke-width="0.88"/>
<circle cx="316.50" cy="169.20" r="1.34" fill="#fff" stroke="#333" stroke-width="0.88"/>
<circle cx="314.90" cy="174.00" r="1.34" fill="#999" stroke="#555" stroke-width="0.88"/>
<circle cx="329.00" cy="187.80" r="1.14" fill="#111"/>
<circle cx="326.50" cy="190.00" r="1.14" fill="#111"/>
<circle cx="329.00" cy="190.60" r="1.14" fill="#111"/>
<circle cx="331.50" cy="190.00" r="1.14" fill="#111"/>
<circle cx="327.50" cy="192.60" r="1.14" fill="#111"/>
<circle cx="330.50" cy="193.00" r="1.14" fill="#111"/>
<circle cx="332.50" cy="191.80" r="1.14" fill="#111"/>
<circle cx="341.00" cy="189.00" r="1.23" fill="#fff" stroke="#333" stroke-width="0.75"/>
<circle cx="344.00" cy="189.00" r="1.23" fill="#fff" stroke="#333" stroke-width="0.75"/>
<circle cx="340.00" cy="191.50" r="1.23" fill="#fff" stroke="#333" stroke-width="0.75"/>
<circle cx="342.50" cy="191.50" r="1.23" fill="#fff" stroke="#333" stroke-width="0.75"/>
<circle cx="345.00" cy="191.50" r="1.23" fill="#fff" stroke="#333" stroke-width="0.75"/>
<circle cx="347.00" cy="191.50" r="1.23" fill="#fff" stroke="#333" stroke-width="0.75"/>
<circle cx="341.50" cy="194.00" r="1.23" fill="#fff" stroke="#333" stroke-width="0.75"/>
<circle cx="344.50" cy="194.00" r="1.23" fill="#fff" stroke="#333" stroke-width="0.75"/>
<text x="367.85" y="121.84" font-size="11.0" font-weight="bold" text-anchor="middle" fill="#000" style="stroke:#000;stroke-width:0.45px">G</text>
<text x="373.80" y="131.97" font-size="7.7" text-anchor="start" fill="#1e1e1e">DCs</text>
<text x="440.80" y="136.17" font-size="7.7" text-anchor="middle" fill="#1e1e1e">IL-10</text>
<line x1="390.50" y1="138.70" x2="390.50" y2="197.80" stroke="#444" stroke-width="0.9"/>
<text x="386.20" y="141.40" font-size="6.4" text-anchor="middle" fill="#1e1e1e">4</text>
<line x1="390.50" y1="139.10" x2="392.00" y2="139.10" stroke="#444" stroke-width="0.7"/>
<text x="386.20" y="156.20" font-size="6.4" text-anchor="middle" fill="#1e1e1e">3</text>
<line x1="390.50" y1="153.90" x2="392.00" y2="153.90" stroke="#444" stroke-width="0.7"/>
<text x="386.20" y="170.90" font-size="6.4" text-anchor="middle" fill="#1e1e1e">2</text>
<line x1="390.50" y1="168.60" x2="392.00" y2="168.60" stroke="#444" stroke-width="0.7"/>
<text x="386.20" y="185.70" font-size="6.4" text-anchor="middle" fill="#1e1e1e">1</text>
<line x1="390.50" y1="183.40" x2="392.00" y2="183.40" stroke="#444" stroke-width="0.7"/>
<text x="386.20" y="199.50" font-size="6.4" text-anchor="middle" fill="#1e1e1e">0</text>
<line x1="390.50" y1="197.20" x2="392.00" y2="197.20" stroke="#444" stroke-width="0.7"/>
<line x1="390.50" y1="197.80" x2="479.50" y2="197.80" stroke="#333" stroke-width="1.0"/>
<text transform="translate(374.90,168.60) rotate(-90)" x="0" y="2.77" font-size="7.7" text-anchor="middle" fill="#1e1e1e">IL-10 (ng/ml)</text>
<rect x="416.50" y="154.60" width="7.80" height="43.20" fill="#000"/>
<rect x="424.3" y="173.1" width="7.5" height="24.7" fill="#fff" stroke="#111" stroke-width="0.8"/>
<line x1="465.40" y1="147.80" x2="465.40" y2="153.20" stroke="#222" stroke-width="0.9"/>
<line x1="463.20" y1="147.80" x2="467.60" y2="147.80" stroke="#222" stroke-width="0.9"/>
<rect x="461.30" y="153.20" width="8.20" height="44.60" fill="#000"/>
<line x1="473.00" y1="162.50" x2="473.00" y2="167.00" stroke="#222" stroke-width="0.9"/>
<line x1="470.90" y1="162.50" x2="475.30" y2="162.50" stroke="#222" stroke-width="0.9"/>
<rect x="469.5" y="167.0" width="7.0" height="30.8" fill="#fff" stroke="#111" stroke-width="0.8"/>
<rect x="486.30" y="140.20" width="6.50" height="3.80" fill="#000"/>
<rect x="486.8" y="147.7" width="5.6" height="3.0" fill="#fff" stroke="#000" stroke-width="1.0"/>
<text x="495.70" y="143.81" font-size="7.8" text-anchor="start" fill="#1e1e1e">Ctrl</text>
<text x="495.70" y="151.81" font-size="7.8" text-anchor="start" fill="#1e1e1e">Xiap-/-</text>
<text x="405.00" y="205.84" font-size="6.5" text-anchor="middle" fill="#1e1e1e">-</text>
<text x="414.20" y="207.14" font-size="6.5" text-anchor="start" fill="#1e1e1e">Curdlan</text>
<text x="447.20" y="205.84" font-size="6.5" text-anchor="middle" fill="#1e1e1e">-</text>
<text x="456.50" y="207.14" font-size="6.5" text-anchor="start" fill="#1e1e1e">Curdlan</text>
<line x1="400.00" y1="211.10" x2="431.80" y2="211.10" stroke="#888" stroke-width="0.9"/>
<line x1="445.50" y1="211.10" x2="477.30" y2="211.10" stroke="#888" stroke-width="0.9"/>
<text x="416.40" y="220.84" font-size="6.5" text-anchor="middle" fill="#1e1e1e">Veh</text>
<text x="464.10" y="220.84" font-size="6.5" text-anchor="middle" fill="#1e1e1e">RvD1</text>
<text x="5.45" y="244.24" font-size="11.0" font-weight="bold" text-anchor="middle" fill="#000" style="stroke:#000;stroke-width:0.45px">H</text>
<line x1="26.90" y1="251.50" x2="26.90" y2="277.80" stroke="#333" stroke-width="0.9"/>
<line x1="26.90" y1="282.40" x2="26.90" y2="309.00" stroke="#333" stroke-width="0.9"/>
<text x="24.30" y="254.73" font-size="6.2" text-anchor="end" fill="#1e1e1e">800</text>
<line x1="26.90" y1="252.50" x2="28.40" y2="252.50" stroke="#555" stroke-width="0.6"/>
<text x="24.30" y="264.33" font-size="6.2" text-anchor="end" fill="#1e1e1e">600</text>
<line x1="26.90" y1="262.10" x2="28.40" y2="262.10" stroke="#555" stroke-width="0.6"/>
<text x="24.30" y="273.63" font-size="6.2" text-anchor="end" fill="#1e1e1e">400</text>
<line x1="26.90" y1="271.40" x2="28.40" y2="271.40" stroke="#555" stroke-width="0.6"/>
<text x="24.30" y="280.63" font-size="6.2" text-anchor="end" fill="#1e1e1e">200</text>
<line x1="26.90" y1="278.40" x2="28.40" y2="278.40" stroke="#555" stroke-width="0.6"/>
<text x="24.30" y="287.03" font-size="6.2" text-anchor="end" fill="#1e1e1e">80</text>
<line x1="26.90" y1="284.80" x2="28.40" y2="284.80" stroke="#555" stroke-width="0.6"/>
<text x="24.30" y="298.93" font-size="6.2" text-anchor="end" fill="#1e1e1e">40</text>
<line x1="26.90" y1="296.70" x2="28.40" y2="296.70" stroke="#555" stroke-width="0.6"/>
<text x="24.30" y="311.53" font-size="6.2" text-anchor="end" fill="#1e1e1e">0</text>
<line x1="26.90" y1="309.30" x2="28.40" y2="309.30" stroke="#555" stroke-width="0.6"/>
<line x1="26.70" y1="308.90" x2="112.30" y2="308.90" stroke="#333" stroke-width="1.0"/>
<text transform="translate(5.40,280.00) rotate(-90)" x="0" y="2.30" font-size="6.4" text-anchor="middle" fill="#1e1e1e">IL-10 (pg/ml)</text>
<text x="44.70" y="318.90" font-size="6.4" text-anchor="middle" fill="#1e1e1e">Ctrl KO</text>
<text x="71.20" y="318.90" font-size="6.4" text-anchor="middle" fill="#1e1e1e">Ctrl KO</text>
<text x="97.20" y="318.90" font-size="6.4" text-anchor="middle" fill="#1e1e1e">Ctrl KO</text>
<line x1="32.30" y1="323.40" x2="57.40" y2="323.40" stroke="#777" stroke-width="0.9"/>
<line x1="61.70" y1="323.40" x2="81.60" y2="323.40" stroke="#777" stroke-width="0.9"/>
<line x1="87.70" y1="323.40" x2="107.80" y2="323.40" stroke="#777" stroke-width="0.9"/>
<text x="44.60" y="332.90" font-size="6.4" text-anchor="middle" fill="#1e1e1e">Inf 6hr</text>
<text x="71.50" y="332.90" font-size="6.4" text-anchor="middle" fill="#1e1e1e">Veh</text>
<text x="97.90" y="332.90" font-size="6.4" text-anchor="middle" fill="#1e1e1e">RvD1</text>
<line x1="63.30" y1="336.30" x2="109.40" y2="336.30" stroke="#777" stroke-width="0.9"/>
<text x="88.40" y="345.00" font-size="6.4" text-anchor="middle" fill="#1e1e1e">Inf 10D</text>
<circle cx="31.70" cy="287.30" r="1.14" fill="#111"/>
<circle cx="35.90" cy="287.30" r="1.14" fill="#111"/>
<circle cx="30.00" cy="295.50" r="1.14" fill="#111"/>
<circle cx="34.00" cy="296.00" r="1.14" fill="#111"/>
<circle cx="36.80" cy="297.50" r="1.14" fill="#111"/>
<circle cx="29.50" cy="299.00" r="1.14" fill="#111"/>
<circle cx="32.00" cy="300.00" r="1.14" fill="#111"/>
<circle cx="35.50" cy="300.50" r="1.14" fill="#111"/>
<circle cx="30.50" cy="302.50" r="1.14" fill="#111"/>
<circle cx="33.50" cy="303.00" r="1.14" fill="#111"/>
<circle cx="31.00" cy="305.00" r="1.14" fill="#111"/>
<circle cx="35.00" cy="305.20" r="1.14" fill="#111"/>
<line x1="29.00" y1="298.50" x2="38.50" y2="298.50" stroke="#444" stroke-width="0.8"/>
<circle cx="44.50" cy="305.00" r="1.14" fill="#111"/>
<circle cx="47.00" cy="304.50" r="1.14" fill="#111"/>
<circle cx="49.50" cy="305.50" r="1.14" fill="#111"/>
<circle cx="43.50" cy="307.50" r="1.14" fill="#111"/>
<circle cx="46.00" cy="307.50" r="1.14" fill="#111"/>
<circle cx="48.50" cy="307.50" r="1.14" fill="#111"/>
<circle cx="51.00" cy="307.50" r="1.14" fill="#111"/>
<circle cx="45.50" cy="303.20" r="1.12" fill="#fff" stroke="#333" stroke-width="0.88"/>
<circle cx="50.50" cy="303.50" r="1.12" fill="#fff" stroke="#333" stroke-width="0.88"/>
<circle cx="62.80" cy="303.50" r="1.14" fill="#111"/>
<circle cx="59.00" cy="306.00" r="1.14" fill="#111"/>
<circle cx="61.00" cy="306.80" r="1.14" fill="#111"/>
<circle cx="63.00" cy="306.00" r="1.14" fill="#111"/>
<circle cx="65.00" cy="306.80" r="1.14" fill="#111"/>
<circle cx="67.00" cy="306.00" r="1.14" fill="#111"/>
<circle cx="60.00" cy="307.80" r="1.14" fill="#111"/>
<circle cx="64.00" cy="307.80" r="1.14" fill="#111"/>
<circle cx="75.00" cy="253.40" r="1.34" fill="#fff" stroke="#333" stroke-width="0.88"/>
<circle cx="78.50" cy="255.30" r="1.34" fill="#fff" stroke="#333" stroke-width="0.88"/>
<line x1="72.10" y1="272.80" x2="81.90" y2="272.80" stroke="#999" stroke-width="1.0"/>
<circle cx="76.80" cy="293.40" r="1.34" fill="#fff" stroke="#333" stroke-width="0.88"/>
<circle cx="76.80" cy="297.20" r="1.34" fill="#fff" stroke="#333" stroke-width="0.88"/>
<circle cx="78.50" cy="304.70" r="1.34" fill="#fff" stroke="#333" stroke-width="0.88"/>
<circle cx="75.30" cy="307.90" r="1.34" fill="#fff" stroke="#333" stroke-width="0.88"/>
<circle cx="91.30" cy="277.30" r="1.20" fill="#111"/>
<line x1="86.60" y1="300.30" x2="96.00" y2="300.30" stroke="#999" stroke-width="1.0"/>
<circle cx="88.00" cy="305.60" r="1.14" fill="#111"/>
<circle cx="90.00" cy="306.80" r="1.14" fill="#111"/>
<circle cx="92.00" cy="305.60" r="1.14" fill="#111"/>
<circle cx="94.00" cy="306.80" r="1.14" fill="#111"/>
<circle cx="89.00" cy="307.80" r="1.14" fill="#111"/>
<circle cx="93.00" cy="307.80" r="1.14" fill="#111"/>
<circle cx="102.00" cy="306.50" r="1.12" fill="#fff" stroke="#333" stroke-width="0.75"/>
<circle cx="104.50" cy="305.50" r="1.12" fill="#fff" stroke="#333" stroke-width="0.75"/>
<circle cx="107.00" cy="306.00" r="1.12" fill="#fff" stroke="#333" stroke-width="0.75"/>
<circle cx="103.00" cy="308.00" r="1.12" fill="#fff" stroke="#333" stroke-width="0.75"/>
<circle cx="105.50" cy="307.80" r="1.12" fill="#fff" stroke="#333" stroke-width="0.75"/>
<circle cx="108.50" cy="307.80" r="1.12" fill="#fff" stroke="#333" stroke-width="0.75"/>
<circle cx="106.00" cy="304.00" r="1.12" fill="#fff" stroke="#333" stroke-width="0.75"/>
<text x="118.60" y="244.24" font-size="11.0" font-weight="bold" text-anchor="middle" fill="#000" style="stroke:#000;stroke-width:0.45px">I</text>
<text x="130.80" y="253.84" font-size="7.9" text-anchor="start" fill="#1e1e1e">Liver</text>
<line x1="141.60" y1="260.20" x2="141.60" y2="311.80" stroke="#333" stroke-width="0.9"/>
<line x1="141.60" y1="260.40" x2="143.20" y2="260.40" stroke="#333" stroke-width="0.8"/>
<text x="139.00" y="263.15" font-size="5.7" text-anchor="end" fill="#1e1e1e" style="stroke-width:0.35px">10<tspan font-size="3.76" dy="-2.05">6</tspan></text>
<line x1="141.60" y1="261.10" x2="143.10" y2="261.10" stroke="#444" stroke-width="0.6"/>
<text x="139.00" y="271.75" font-size="5.7" text-anchor="end" fill="#1e1e1e" style="stroke-width:0.35px">10<tspan font-size="3.76" dy="-2.05">5</tspan></text>
<line x1="141.60" y1="269.70" x2="143.10" y2="269.70" stroke="#444" stroke-width="0.6"/>
<text x="139.00" y="280.45" font-size="5.7" text-anchor="end" fill="#1e1e1e" style="stroke-width:0.35px">10<tspan font-size="3.76" dy="-2.05">4</tspan></text>
<line x1="141.60" y1="278.40" x2="143.10" y2="278.40" stroke="#444" stroke-width="0.6"/>
<text x="139.00" y="288.75" font-size="5.7" text-anchor="end" fill="#1e1e1e" style="stroke-width:0.35px">10<tspan font-size="3.76" dy="-2.05">3</tspan></text>
<line x1="141.60" y1="286.70" x2="143.10" y2="286.70" stroke="#444" stroke-width="0.6"/>
<text x="139.00" y="297.75" font-size="5.7" text-anchor="end" fill="#1e1e1e" style="stroke-width:0.35px">10<tspan font-size="3.76" dy="-2.05">2</tspan></text>
<line x1="141.60" y1="295.70" x2="143.10" y2="295.70" stroke="#444" stroke-width="0.6"/>
<text x="139.00" y="306.05" font-size="5.7" text-anchor="end" fill="#1e1e1e" style="stroke-width:0.35px">10<tspan font-size="3.76" dy="-2.05">1</tspan></text>
<line x1="141.60" y1="304.00" x2="143.10" y2="304.00" stroke="#444" stroke-width="0.6"/>
<text x="139.00" y="313.45" font-size="5.7" text-anchor="end" fill="#1e1e1e" style="stroke-width:0.35px">10<tspan font-size="3.76" dy="-2.05">0</tspan></text>
<line x1="141.60" y1="311.40" x2="143.10" y2="311.40" stroke="#444" stroke-width="0.6"/>
<line x1="141.60" y1="311.80" x2="219.20" y2="311.80" stroke="#333" stroke-width="1.0"/>
<text transform="translate(123.50,285.30) rotate(-90)" x="0" y="2.30" font-size="6.4" text-anchor="middle" fill="#1e1e1e">CFU/g</text>
<text x="150.00" y="322.10" font-size="6.4" text-anchor="middle" fill="#1e1e1e">Ctrl</text>
<text x="171.30" y="322.10" font-size="6.4" text-anchor="middle" fill="#1e1e1e">Xiap-/-</text>
<text x="190.20" y="322.10" font-size="6.4" text-anchor="middle" fill="#1e1e1e">Ctrl</text>
<text x="212.50" y="322.10" font-size="6.4" text-anchor="middle" fill="#1e1e1e">Xiap-/-</text>
<line x1="145.50" y1="327.40" x2="180.70" y2="327.40" stroke="#777" stroke-width="0.9"/>
<line x1="185.10" y1="327.40" x2="220.80" y2="327.40" stroke="#777" stroke-width="0.9"/>
<text x="162.90" y="335.10" font-size="6.4" text-anchor="middle" fill="#1e1e1e">Veh</text>
<text x="205.40" y="335.30" font-size="6.4" text-anchor="middle" fill="#1e1e1e">RvD1</text>
<circle cx="189.10" cy="252.50" r="1.14" fill="#111"/>
<line x1="170.40" y1="256.40" x2="208.50" y2="256.40" stroke="#747474" stroke-width="1.0"/>
<circle cx="151.20" cy="281.30" r="1.20" fill="#111"/>
<circle cx="149.90" cy="285.30" r="1.20" fill="#111"/>
<circle cx="152.50" cy="289.50" r="1.20" fill="#111"/>
<circle cx="152.50" cy="294.30" r="1.20" fill="#111"/>
<circle cx="149.90" cy="296.90" r="1.20" fill="#111"/>
<circle cx="149.50" cy="288.00" r="1.20" fill="#111"/>
<line x1="144.70" y1="286.50" x2="157.70" y2="286.50" stroke="#333" stroke-width="0.9"/>
<rect x="167.75" y="263.95" width="2.3" height="2.3" fill="#fff" stroke="#111" stroke-width="0.9"/>
<rect x="170.75" y="263.95" width="2.3" height="2.3" fill="#fff" stroke="#111" stroke-width="0.9"/>
<line x1="164.30" y1="267.70" x2="177.30" y2="267.70" stroke="#333" stroke-width="0.9"/>
<rect x="166.05" y="270.85" width="2.3" height="2.3" fill="#fff" stroke="#111" stroke-width="0.9"/>
<rect x="168.75" y="270.85" width="2.3" height="2.3" fill="#fff" stroke="#111" stroke-width="0.9"/>
<rect x="172.25" y="269.85" width="2.3" height="2.3" fill="#fff" stroke="#111" stroke-width="0.9"/>
<rect x="169.45" y="278.15" width="2.3" height="2.3" fill="#fff" stroke="#111" stroke-width="0.9"/>
<circle cx="189.80" cy="290.30" r="1.20" fill="#111"/>
<line x1="183.40" y1="295.10" x2="196.40" y2="295.10" stroke="#333" stroke-width="0.9"/>
<circle cx="188.80" cy="294.50" r="1.08" fill="#111"/>
<circle cx="190.50" cy="295.50" r="1.08" fill="#111"/>
<circle cx="186.70" cy="311.80" r="1.20" fill="#111"/>
<circle cx="189.80" cy="311.80" r="1.20" fill="#111"/>
<circle cx="193.00" cy="311.80" r="1.20" fill="#111"/>
<rect x="208.25" y="284.75" width="2.3" height="2.3" fill="#fff" stroke="#111" stroke-width="0.9"/>
<line x1="203.00" y1="291.10" x2="215.50" y2="291.10" stroke="#333" stroke-width="0.9"/>
<rect x="206.45" y="289.45" width="2.3" height="2.3" fill="#fff" stroke="#111" stroke-width="0.9"/>
<rect x="209.95" y="292.05" width="2.3" height="2.3" fill="#fff" stroke="#111" stroke-width="0.9"/>
<rect x="204.90" y="310.70" width="2.2" height="2.2" fill="#888" stroke="#111" stroke-width="0.8"/>
<rect x="207.50" y="310.70" width="2.2" height="2.2" fill="#888" stroke="#111" stroke-width="0.8"/>
<rect x="210.10" y="310.70" width="2.2" height="2.2" fill="#888" stroke="#111" stroke-width="0.8"/>
<rect x="212.10" y="310.70" width="2.2" height="2.2" fill="#888" stroke="#111" stroke-width="0.8"/>
<text x="232.95" y="244.09" font-size="11.0" font-weight="bold" text-anchor="middle" fill="#000" style="stroke:#000;stroke-width:0.45px">J</text>
<text x="238.70" y="253.84" font-size="7.9" text-anchor="start" fill="#1e1e1e">Spleen</text>
<line x1="261.00" y1="259.80" x2="261.00" y2="312.20" stroke="#333" stroke-width="0.9"/>
<line x1="261.00" y1="260.00" x2="262.60" y2="260.00" stroke="#333" stroke-width="0.8"/>
<text x="256.30" y="263.05" font-size="5.7" text-anchor="end" fill="#1e1e1e" style="stroke-width:0.35px">10<tspan font-size="3.76" dy="-2.05">6</tspan></text>
<line x1="261.00" y1="261.00" x2="262.50" y2="261.00" stroke="#444" stroke-width="0.6"/>
<text x="256.30" y="272.45" font-size="5.7" text-anchor="end" fill="#1e1e1e" style="stroke-width:0.35px">10<tspan font-size="3.76" dy="-2.05">5</tspan></text>
<line x1="261.00" y1="270.40" x2="262.50" y2="270.40" stroke="#444" stroke-width="0.6"/>
<text x="256.30" y="280.95" font-size="5.7" text-anchor="end" fill="#1e1e1e" style="stroke-width:0.35px">10<tspan font-size="3.76" dy="-2.05">4</tspan></text>
<line x1="261.00" y1="278.90" x2="262.50" y2="278.90" stroke="#444" stroke-width="0.6"/>
<text x="256.30" y="289.15" font-size="5.7" text-anchor="end" fill="#1e1e1e" style="stroke-width:0.35px">10<tspan font-size="3.76" dy="-2.05">3</tspan></text>
<line x1="261.00" y1="287.10" x2="262.50" y2="287.10" stroke="#444" stroke-width="0.6"/>
<text x="256.30" y="298.15" font-size="5.7" text-anchor="end" fill="#1e1e1e" style="stroke-width:0.35px">10<tspan font-size="3.76" dy="-2.05">2</tspan></text>
<line x1="261.00" y1="296.10" x2="262.50" y2="296.10" stroke="#444" stroke-width="0.6"/>
<text x="256.30" y="306.45" font-size="5.7" text-anchor="end" fill="#1e1e1e" style="stroke-width:0.35px">10<tspan font-size="3.76" dy="-2.05">1</tspan></text>
<line x1="261.00" y1="304.40" x2="262.50" y2="304.40" stroke="#444" stroke-width="0.6"/>
<text x="256.30" y="313.55" font-size="5.7" text-anchor="end" fill="#1e1e1e" style="stroke-width:0.35px">10<tspan font-size="3.76" dy="-2.05">0</tspan></text>
<line x1="261.00" y1="311.50" x2="262.50" y2="311.50" stroke="#444" stroke-width="0.6"/>
<line x1="261.00" y1="312.20" x2="342.60" y2="312.20" stroke="#333" stroke-width="1.0"/>
<text transform="translate(240.60,286.00) rotate(-90)" x="0" y="2.30" font-size="6.4" text-anchor="middle" fill="#1e1e1e">CFU/g</text>
<text x="271.40" y="322.30" font-size="6.4" text-anchor="middle" fill="#1e1e1e">Ctrl</text>
<text x="292.40" y="322.30" font-size="6.4" text-anchor="middle" fill="#1e1e1e">Xiap-/-</text>
<text x="312.00" y="322.30" font-size="6.4" text-anchor="middle" fill="#1e1e1e">Ctrl</text>
<text x="334.50" y="322.30" font-size="6.4" text-anchor="middle" fill="#1e1e1e">Xiap-/-</text>
<line x1="265.00" y1="327.30" x2="299.90" y2="327.30" stroke="#777" stroke-width="0.9"/>
<line x1="310.20" y1="327.30" x2="344.80" y2="327.30" stroke="#777" stroke-width="0.9"/>
<text x="281.00" y="335.90" font-size="6.4" text-anchor="middle" fill="#1e1e1e">Veh</text>
<text x="327.90" y="335.90" font-size="6.4" text-anchor="middle" fill="#1e1e1e">RvD1</text>
<circle cx="311.35" cy="249.80" r="1.26" fill="#111"/>
<circle cx="314.65" cy="249.80" r="1.26" fill="#111"/>
<line x1="291.60" y1="255.20" x2="332.80" y2="255.20" stroke="#747474" stroke-width="1.0"/>
<circle cx="271.20" cy="277.30" r="1.20" fill="#111"/>
<circle cx="272.50" cy="281.80" r="1.20" fill="#111"/>
<circle cx="269.00" cy="284.20" r="1.20" fill="#111"/>
<circle cx="270.70" cy="288.20" r="1.20" fill="#111"/>
<circle cx="272.50" cy="292.20" r="1.20" fill="#111"/>
<circle cx="269.00" cy="294.30" r="1.20" fill="#111"/>
<line x1="264.30" y1="282.40" x2="277.70" y2="282.40" stroke="#333" stroke-width="0.9"/>
<circle cx="289.40" cy="265.80" r="1.40" fill="#fff" stroke="#111" stroke-width="1.06"/>
<circle cx="293.30" cy="263.20" r="1.40" fill="#fff" stroke="#111" stroke-width="1.06"/>
<circle cx="289.40" cy="268.20" r="1.40" fill="#fff" stroke="#111" stroke-width="1.06"/>
<circle cx="293.30" cy="269.70" r="1.40" fill="#fff" stroke="#111" stroke-width="1.06"/>
<circle cx="293.30" cy="274.40" r="1.40" fill="#fff" stroke="#111" stroke-width="1.06"/>
<circle cx="289.40" cy="277.90" r="1.40" fill="#fff" stroke="#111" stroke-width="1.06"/>
<line x1="284.00" y1="267.20" x2="298.50" y2="267.20" stroke="#333" stroke-width="0.9"/>
<line x1="305.80" y1="312.20" x2="314.60" y2="312.20" stroke="#111" stroke-width="2.0"/>
<circle cx="316.80" cy="312.20" r="1.20" fill="#111"/>
<line x1="325.70" y1="312.20" x2="338.90" y2="312.20" stroke="#111" stroke-width="2.4"/>
<rect x="326.20" y="311.40" width="1.6" height="1.6" fill="#777" stroke="#111" stroke-width="0.5"/>
<rect x="328.70" y="311.40" width="1.6" height="1.6" fill="#777" stroke="#111" stroke-width="0.5"/>
<rect x="331.20" y="311.40" width="1.6" height="1.6" fill="#777" stroke="#111" stroke-width="0.5"/>
<rect x="333.70" y="311.40" width="1.6" height="1.6" fill="#777" stroke="#111" stroke-width="0.5"/>
<rect x="336.20" y="311.40" width="1.6" height="1.6" fill="#777" stroke="#111" stroke-width="0.5"/>
<text x="356.60" y="243.99" font-size="11.0" font-weight="bold" text-anchor="middle" fill="#000" style="stroke:#000;stroke-width:0.45px">K</text>
<text x="363.90" y="253.64" font-size="7.9" text-anchor="start" fill="#1e1e1e">Kidney</text>
<line x1="386.40" y1="259.80" x2="386.40" y2="303.50" stroke="#333" stroke-width="0.9"/>
<line x1="386.40" y1="306.00" x2="386.40" y2="312.30" stroke="#333" stroke-width="0.9"/>
<line x1="386.40" y1="303.50" x2="388.00" y2="303.50" stroke="#333" stroke-width="0.8"/>
<text x="381.20" y="262.25" font-size="5.7" text-anchor="end" fill="#1e1e1e" style="stroke-width:0.35px">10<tspan font-size="3.76" dy="-2.05">10</tspan></text>
<line x1="386.40" y1="260.20" x2="387.90" y2="260.20" stroke="#444" stroke-width="0.6"/>
<text x="381.20" y="270.45" font-size="5.7" text-anchor="end" fill="#1e1e1e" style="stroke-width:0.35px">10<tspan font-size="3.76" dy="-2.05">9</tspan></text>
<line x1="386.40" y1="268.40" x2="387.90" y2="268.40" stroke="#444" stroke-width="0.6"/>
<text x="381.20" y="279.25" font-size="5.7" text-anchor="end" fill="#1e1e1e" style="stroke-width:0.35px">10<tspan font-size="3.76" dy="-2.05">8</tspan></text>
<line x1="386.40" y1="277.20" x2="387.90" y2="277.20" stroke="#444" stroke-width="0.6"/>
<text x="381.20" y="288.25" font-size="5.7" text-anchor="end" fill="#1e1e1e" style="stroke-width:0.35px">10<tspan font-size="3.76" dy="-2.05">7</tspan></text>
<line x1="386.40" y1="286.20" x2="387.90" y2="286.20" stroke="#444" stroke-width="0.6"/>
<text x="381.20" y="296.55" font-size="5.7" text-anchor="end" fill="#1e1e1e" style="stroke-width:0.35px">10<tspan font-size="3.76" dy="-2.05">6</tspan></text>
<line x1="386.40" y1="294.50" x2="387.90" y2="294.50" stroke="#444" stroke-width="0.6"/>
<text x="381.20" y="303.85" font-size="5.7" text-anchor="end" fill="#1e1e1e" style="stroke-width:0.35px">10<tspan font-size="3.76" dy="-2.05">5</tspan></text>
<line x1="386.40" y1="301.80" x2="387.90" y2="301.80" stroke="#444" stroke-width="0.6"/>
<text x="381.20" y="312.95" font-size="5.7" text-anchor="end" fill="#1e1e1e" style="stroke-width:0.35px">10<tspan font-size="3.76" dy="-2.05">0</tspan></text>
<line x1="386.40" y1="310.90" x2="387.90" y2="310.90" stroke="#444" stroke-width="0.6"/>
<line x1="386.40" y1="312.30" x2="464.80" y2="312.30" stroke="#333" stroke-width="1.0"/>
<text transform="translate(366.60,286.00) rotate(-90)" x="0" y="2.30" font-size="6.4" text-anchor="middle" fill="#1e1e1e">CFU/g</text>
<text x="397.00" y="322.40" font-size="6.4" text-anchor="middle" fill="#1e1e1e">Ctrl</text>
<text x="417.40" y="322.40" font-size="6.4" text-anchor="middle" fill="#1e1e1e">Xiap-/-</text>
<text x="436.00" y="322.40" font-size="6.4" text-anchor="middle" fill="#1e1e1e">Ctrl</text>
<text x="456.90" y="322.40" font-size="6.4" text-anchor="middle" fill="#1e1e1e">Xiap-/-</text>
<line x1="391.20" y1="327.90" x2="425.90" y2="327.90" stroke="#777" stroke-width="0.9"/>
<line x1="430.80" y1="327.90" x2="465.60" y2="327.90" stroke="#777" stroke-width="0.9"/>
<text x="410.40" y="335.80" font-size="6.4" text-anchor="middle" fill="#1e1e1e">Veh</text>
<text x="449.30" y="335.80" font-size="6.4" text-anchor="middle" fill="#1e1e1e">RvD1</text>
<circle cx="434.30" cy="251.80" r="1.14" fill="#111"/>
<line x1="416.00" y1="256.40" x2="454.10" y2="256.40" stroke="#747474" stroke-width="1.0"/>
<circle cx="393.80" cy="299.60" r="1.20" fill="#111"/>
<circle cx="397.30" cy="298.40" r="1.20" fill="#111"/>
<circle cx="395.50" cy="302.60" r="1.20" fill="#111"/>
<line x1="388.60" y1="302.20" x2="402.60" y2="302.20" stroke="#333" stroke-width="0.9"/>
<circle cx="391.60" cy="308.40" r="1.20" fill="#111"/>
<circle cx="395.10" cy="308.40" r="1.20" fill="#111"/>
<circle cx="398.80" cy="308.40" r="1.20" fill="#111"/>
<rect x="414.15" y="269.05" width="2.3" height="2.3" fill="#fff" stroke="#111" stroke-width="0.9"/>
<line x1="408.70" y1="275.20" x2="421.70" y2="275.20" stroke="#333" stroke-width="0.9"/>
<rect x="409.70" y="274.50" width="2.2" height="2.2" fill="#fff" stroke="#111" stroke-width="0.9"/>
<rect x="412.30" y="275.30" width="2.2" height="2.2" fill="#fff" stroke="#111" stroke-width="0.9"/>
<rect x="414.90" y="275.90" width="2.2" height="2.2" fill="#fff" stroke="#111" stroke-width="0.9"/>
<rect x="417.50" y="275.10" width="2.2" height="2.2" fill="#fff" stroke="#111" stroke-width="0.9"/>
<rect x="419.50" y="274.50" width="2.2" height="2.2" fill="#fff" stroke="#111" stroke-width="0.9"/>
<rect x="414.15" y="280.05" width="2.3" height="2.3" fill="#fff" stroke="#111" stroke-width="0.9"/>
<circle cx="435.00" cy="296.00" r="1.20" fill="#111"/>
<line x1="428.40" y1="301.60" x2="441.30" y2="301.60" stroke="#888" stroke-width="1.0"/>
<circle cx="431.20" cy="307.80" r="1.14" fill="#111"/>
<circle cx="432.80" cy="307.00" r="1.14" fill="#111"/>
<circle cx="434.40" cy="307.60" r="1.14" fill="#111"/>
<circle cx="436.00" cy="308.00" r="1.14" fill="#111"/>
<circle cx="437.40" cy="308.00" r="1.14" fill="#111"/>
<rect x="453.45" y="288.75" width="2.3" height="2.3" fill="#fff" stroke="#111" stroke-width="0.9"/>
<line x1="447.80" y1="296.00" x2="461.60" y2="296.00" stroke="#888" stroke-width="1.0"/>
<rect x="449.55" y="306.75" width="2.1" height="2.1" fill="#777" stroke="#111" stroke-width="0.8"/>
<rect x="451.85" y="306.75" width="2.1" height="2.1" fill="#777" stroke="#111" stroke-width="0.8"/>
<rect x="454.15" y="306.75" width="2.1" height="2.1" fill="#777" stroke="#111" stroke-width="0.8"/>
<rect x="456.45" y="306.75" width="2.1" height="2.1" fill="#777" stroke="#111" stroke-width="0.8"/>
<rect x="457.95" y="306.75" width="2.1" height="2.1" fill="#777" stroke="#111" stroke-width="0.8"/>
</svg>
</body></html>
